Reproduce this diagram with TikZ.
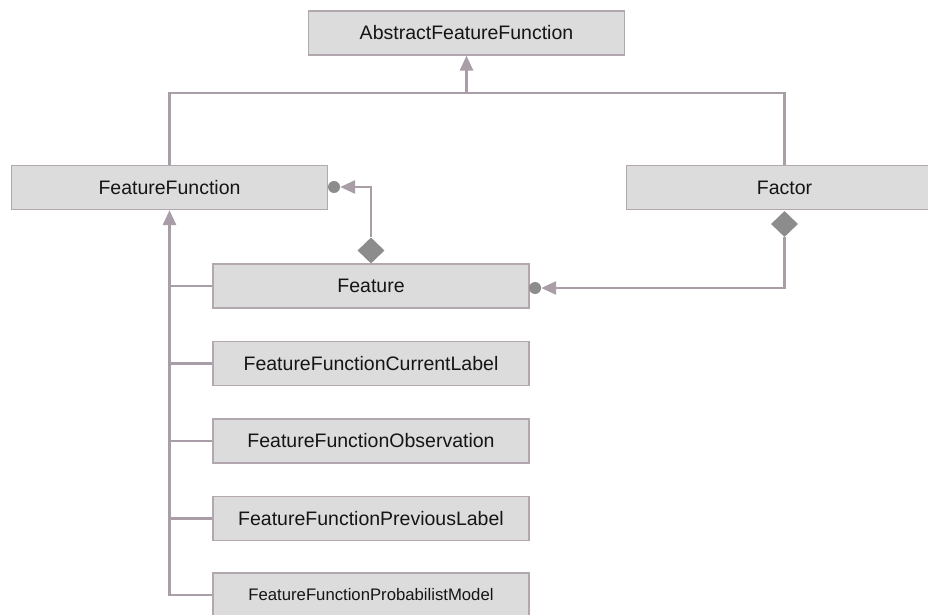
\documentclass[tikz,border=0pt]{standalone}
\usepackage{fontspec}
\setmainfont{Liberation Sans}
\usetikzlibrary{arrows.meta,shapes.geometric}
\definecolor{boxfill}{HTML}{DCDCDC}
\definecolor{boxline}{HTML}{B3A7B0}
\definecolor{conn}{HTML}{A99DA7}
\definecolor{markc}{HTML}{8C8C8C}
\definecolor{txt}{HTML}{151515}
\begin{document}
\begin{tikzpicture}[x=1pt,y=-1pt,
  cls/.style={draw=boxline,line width=1.3pt,fill=boxfill,minimum width=316pt,minimum height=44pt,inner sep=0pt,text=txt,font=\fontsize{19.5}{23}\selectfont},
  link/.style={draw=conn,line width=2.8pt},
  gen/.style={link,-{Triangle[length=15pt,width=13pt]}},
  agg/.style={shape=diamond,fill=markc,minimum width=27pt,minimum height=26pt,inner sep=0pt},
  dotend/.style={circle,fill=markc,minimum size=12pt,inner sep=0pt}]
\useasboundingbox (0,0) rectangle (928,615);
\fill[white] (0,0) rectangle (928,615);
\node[cls] (aff) at (466.5,33) {AbstractFeatureFunction};
\node[cls] (ff) at (169.5,187.5) {FeatureFunction};
\node[cls] (factor) at (784.5,187.5) {Factor};
\node[cls] (feat) at (371,286) {Feature};
\node[cls] (cl) at (371,363.5) {FeatureFunctionCurrentLabel};
\node[cls] (obs) at (371,441) {FeatureFunctionObservation};
\node[cls] (prev) at (371,518.5) {FeatureFunctionPreviousLabel};
\node[cls,font=\fontsize{16.7}{20}\selectfont] (prob) at (371,595) {FeatureFunctionProbabilistModel};
\coordinate (top) at (466.5,93);
\draw[link] (ff.north) |- (top) -| (factor.north);
\draw[gen] (top) -- (aff.south);
\draw[gen] (prob.west) -| (ff.south);
\foreach \n in {feat,cl,obs,prev} \draw[link] (\n.west) -- (\n.west -| ff.south);
\node[agg] (d1) at (371,250.5) {};
\node[dotend] (c1) at (334,187) {};
\draw[gen] (d1.north) |- (c1.east);
\node[agg] (d2) at (784.5,224) {};
\node[dotend] (c2) at (535,288) {};
\draw[gen] (d2.south) |- (c2.east);
\end{tikzpicture}
\end{document}
